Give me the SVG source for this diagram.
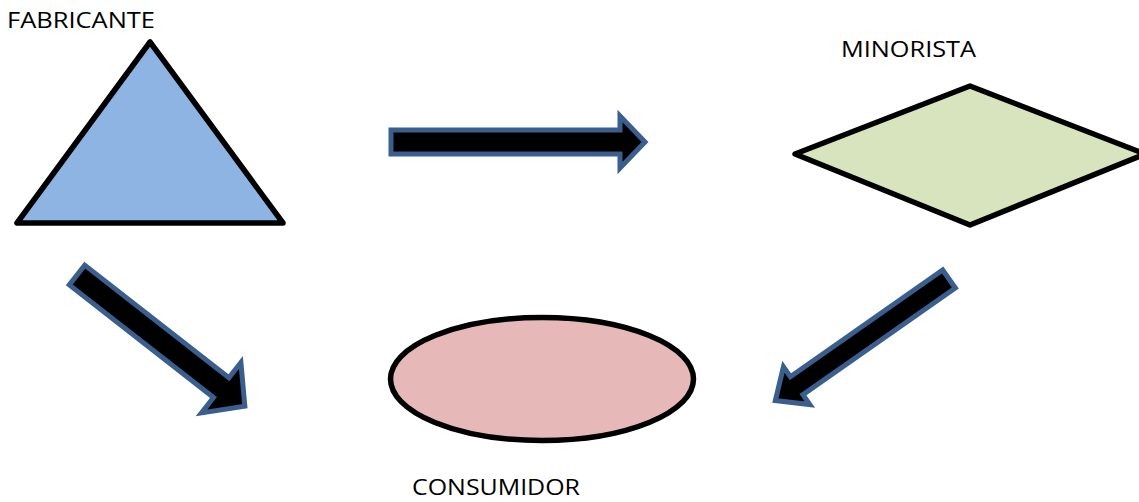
<svg xmlns="http://www.w3.org/2000/svg" width="1139" height="502" viewBox="0 0 1139 502">
<style>
.shape{stroke:#000;stroke-width:5.5;stroke-linejoin:round}
.arrow{fill:#000;stroke:#3A5F8E;stroke-width:5;stroke-linejoin:miter}
.lbl{font-family:"Open Sans","Liberation Sans",sans-serif;font-size:21px;fill:#000}
</style>
<rect width="1139" height="502" fill="#fff"/>
<g id="fabricante">
<polygon class="shape" points="150,42 17,223 283,223" fill="#8EB4E3"/>
<text class="lbl" x="7" y="28" textLength="148" lengthAdjust="spacingAndGlyphs">FABRICANTE</text>
</g>
<g id="minorista">
<polygon class="shape" points="970,86 1145,154 970,225 795,154" fill="#D7E4BD"/>
<text class="lbl" x="841" y="57" textLength="135" lengthAdjust="spacingAndGlyphs">MINORISTA</text>
</g>
<g id="consumidor">
<ellipse class="shape" cx="542" cy="379" rx="151.5" ry="61.5" fill="#E6B9B8"/>
<text class="lbl" x="412" y="495" textLength="168" lengthAdjust="spacingAndGlyphs">CONSUMIDOR</text>
</g>
<g id="connectors">
<polygon class="arrow" points="391,130 620,130 620,116 645,142 620,168 620,154 391,154"/>
<polygon class="arrow" transform="translate(77,275) rotate(38)" points="0,-12.5 183,-12.5 183,-32 213,0 183,32 183,12.5 0,12.5"/>
<polygon class="arrow" transform="translate(949,279) rotate(145)" points="0,-11 186,-11 186,-23 212,0 186,23 186,11 0,11"/>
</g>
</svg>
